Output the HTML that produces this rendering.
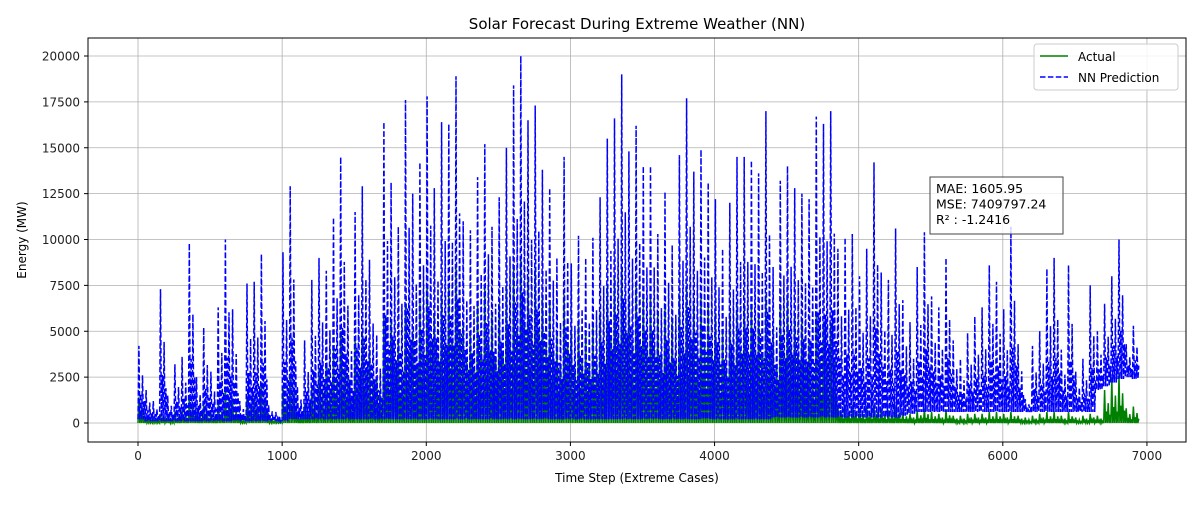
<!DOCTYPE html>
<html><head><meta charset="utf-8">
<style>
body{margin:0;background:#fff;font-family:"Liberation Sans","DejaVu Sans",sans-serif;}
svg text{font-family:"DejaVu Sans","Liberation Sans",sans-serif;}
</style></head>
<body>
<svg id="c" width="1200" height="500" xmlns="http://www.w3.org/2000/svg"></svg>
<script>
const steps=[];for(let i=0;i<=6900;i+=50)steps.push(i);
const nnPeaks=[4200,1800,1200,7300,1500,3200,3600,9800,2500,5200,2800,6300,10000,6200,1200,7600,7700,9200,1000,600,9300,12900,2000,4500,7800,9000,8300,11200,14500,6400,11500,12900,8900,4800,16400,13100,10700,17600,12500,14200,17800,12800,16400,16300,18900,11000,10500,13400,15200,10700,12300,15000,18400,20000,16500,17300,13800,12800,9000,14500,8700,10200,9000,10100,12300,15500,16600,19000,14800,16200,14000,14000,10300,12600,9700,14600,17700,13700,14900,13100,12200,9500,12000,14500,14500,14300,13600,17000,8500,13200,14000,12800,12500,12200,16700,16300,17000,9500,10100,10300,8000,9500,14200,8200,7800,10600,6700,5500,8500,10400,6900,6300,9000,4500,3500,4900,5800,6300,8600,7700,6200,10700,4300,1300,4200,5000,8400,9000,4000,8600,2800,3500,7500,5000,6500,8000,10000,4300,5300];
const nnTrough=[200,100,100,100,100,100,100,100,100,100,100,100,100,100,100,100,100,100,100,100,100,200,200,200,200,200,200,200,200,200,200,200,200,200,200,200,200,200,200,200,200,200,200,200,200,200,200,200,200,200,200,200,200,200,200,200,200,200,200,200,200,200,200,200,200,200,200,200,200,200,200,200,200,200,200,200,200,200,200,200,200,200,200,200,200,200,200,200,300,300,300,300,300,300,300,300,300,300,300,300,300,300,300,300,300,300,400,500,600,600,600,600,600,600,600,600,600,600,600,600,600,600,600,600,600,600,600,600,600,600,600,600,600,1800,2000,2200,2400,2500,2400,2600];
const actPeaks=[1400,300,300,500,400,600,700,1500,600,1000,600,1000,2000,1200,300,1500,1500,2000,300,200,2000,2700,600,1000,2000,3000,3000,4000,5000,2500,4500,5000,4000,2500,6000,5500,4500,6500,5000,6500,7500,6000,7000,7500,8500,5500,5000,6500,7500,6000,6500,7500,8500,9000,8000,8500,7000,6500,5000,7000,5000,5500,5000,5500,6000,7500,8000,8500,7000,7500,7000,7000,6000,6500,5500,7000,7500,6500,7000,6500,6000,5000,6000,6500,6500,6500,6000,7000,5000,6500,7000,6000,5500,4500,6000,5500,5500,1000,1000,1000,800,900,1000,800,700,900,600,500,700,800,600,500,700,400,400,500,500,500,600,600,500,600,400,300,400,500,600,600,400,600,300,400,500,400,1800,2500,2700,800,900];
const X0=-347,X1=7271,Y0=-1035,Y1=20981,L=88,R=1186,T=38,B=442;
const sx=v=>L+(v-X0)/(X1-X0)*(R-L), sy=v=>B-(v-Y0)/(Y1-Y0)*(B-T);
const svg=document.getElementById('c');const NS='http://www.w3.org/2000/svg';
function mk(t,a,p){const e=document.createElementNS(NS,t);for(const k in a)e.setAttribute(k,a[k]);(p||svg).appendChild(e);return e;}
mk('rect',{x:0,y:0,width:1200,height:500,fill:'#fff'});
const xt=[0,1000,2000,3000,4000,5000,6000,7000],yt=[0,2500,5000,7500,10000,12500,15000,17500,20000];
const grid=mk('g',{});
xt.forEach(v=>{mk('line',{x1:sx(v),x2:sx(v),y1:T,y2:B,stroke:'#b0b0b0','stroke-width':0.8},grid);
 const t=mk('text',{x:sx(v),y:B+18,'text-anchor':'middle','font-size':12,fill:'#222'});t.textContent=v;
 
 mk('line',{x1:sx(v),x2:sx(v),y1:B,y2:B+4,stroke:'#000'});});
yt.forEach(v=>{mk('line',{x1:L,x2:R,y1:sy(v),y2:sy(v),stroke:'#b0b0b0','stroke-width':0.8},grid);
 const t=mk('text',{x:L-8,y:sy(v)+4.5,'text-anchor':'end','font-size':12,fill:'#222'});t.textContent=v;
 
 mk('line',{x1:L-4,x2:L,y1:sy(v),y2:sy(v),stroke:'#000'});});
const pat=[1,0.35,0.6,0.25];
function series(peaks,trough,color,dash,name){
 let d='';steps.forEach((s,i)=>{for(let k=0;k<4;k++){const x=s+k*12.5;const tr=trough?trough[i]:0;
  const h=tr+(peaks[i]-tr)*pat[k];d+=(d?'L':'M')+sx(x).toFixed(1)+','+sy(tr).toFixed(1)+'L'+sx(x+6).toFixed(1)+','+sy(h).toFixed(1);}});
 const p=mk('path',{d:d+'L'+sx(6920)+','+sy(trough?trough[trough.length-1]:0),fill:'none',stroke:color,'stroke-width':1.5,'stroke-dasharray':dash||'none'});
 }
series(actPeaks,null,'#008000',null,'actual-line');
series(nnPeaks,nnTrough,'#0000ff','5.5,2.4','nn-prediction-line');
mk('rect',{x:L,y:T,width:R-L,height:B-T,fill:'none',stroke:'#000','stroke-width':1});
const tt=mk('text',{x:637,y:29,'text-anchor':'middle','font-size':15});tt.textContent='Solar Forecast During Extreme Weather (NN)';

const xl=mk('text',{x:637,y:482,'text-anchor':'middle','font-size':12});xl.textContent='Time Step (Extreme Cases)';

const yl=mk('text',{x:26,y:240,'text-anchor':'middle','font-size':12,transform:'rotate(-90 26 240)'});yl.textContent='Energy (MW)';

const lg=mk('g',{});
mk('rect',{x:1034,y:44,width:144,height:46,rx:3,fill:'#fff','fill-opacity':0.85,stroke:'#ccc'},lg);
mk('line',{x1:1040,x2:1068,y1:56,y2:56,stroke:'#008000','stroke-width':1.5},lg);
let t1=mk('text',{x:1078,y:61,'font-size':12},lg);t1.textContent='Actual';

mk('line',{x1:1040,x2:1068,y1:77,y2:77,stroke:'#0000ff','stroke-width':1.5,'stroke-dasharray':'5.5,2.4'},lg);
let t2=mk('text',{x:1078,y:82,'font-size':12},lg);t2.textContent='NN Prediction';

const an=mk('g',{});
mk('rect',{x:930,y:177,width:133,height:57,fill:'#fff','fill-opacity':0.8,stroke:'#444'},an);
['MAE: 1605.95','MSE: 7409797.24','R² : -1.2416'].forEach((s,i)=>{const t=mk('text',{x:936,y:193+i*15.5,'font-size':12.5},an);t.textContent=s;
 });
</script>
</body></html>
